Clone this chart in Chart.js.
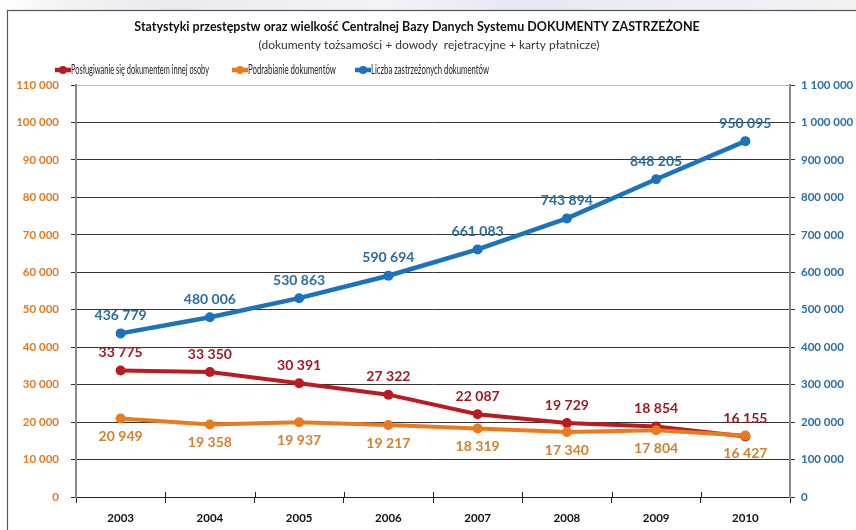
<!DOCTYPE html>
<html>
<head>
<meta charset="utf-8">
<script src="https://cdn.jsdelivr.net/npm/chart.js@4.4.1/dist/chart.umd.min.js"></script>
<style>
html,body{margin:0;padding:0;background:#fff;}
#wrap{width:856px;height:530px;position:relative;}
</style>
</head>
<body>
<div id="wrap"><canvas id="c" width="856" height="530"></canvas></div>
<script>
const years = ['2003','2004','2005','2006','2007','2008','2009','2010'];
const posluguiwanie = [33775, 33350, 30391, 27322, 22087, 19729, 18854, 16155];
const podrabianie = [20949, 19358, 19937, 19217, 18319, 17340, 17804, 16427];
const zastrzezone = [436779, 480006, 530863, 590694, 661083, 743894, 848205, 950095];
const seriesNames = ['Posługiwanie się dokumentem innej osoby', 'Podrabianie dokumentów', 'Liczba zastrzeżonych dokumentów'];
const titleText = 'Statystyki przestępstw oraz wielkość Centralnej Bazy Danych Systemu DOKUMENTY ZASTRZEŻONE';
const subtitleText = '(dokumenty tożsamości + dowody  rejetracyjne + karty płatnicze)';
const leftMax = 110000, leftStep = 10000;
const rightMax = 1100000, rightStep = 100000;

const RED = '#BA1B22', ORANGE = '#EA7A1E', BLUE = '#1B72BD';
const RED_LBL = '#9C1C22', ORANGE_LBL = '#D2812F', BLUE_LBL = '#2A6C9F';

function fmt(v){ return String(v).replace(/\B(?=(\d{3})+(?!\d))/g, ' '); }

const framePlugin = {
  id: 'frame',
  beforeDraw(chart){
    const ctx = chart.ctx;
    ctx.save();
    ctx.fillStyle = '#fff';
    ctx.fillRect(0,0,chart.width,chart.height);
    const g = ctx.createLinearGradient(0,0,chart.width,0);
    g.addColorStop(0,'#ffffff');
    g.addColorStop(0.07,'#f4f4f6');
    g.addColorStop(0.2,'#e9e9ee');
    g.addColorStop(0.45,'#f3f3f8');
    g.addColorStop(0.6,'#e6e8f2');
    g.addColorStop(0.8,'#eceef4');
    g.addColorStop(1,'#f2f2f4');
    ctx.fillStyle = g;
    ctx.fillRect(0,0,chart.width,10);
    ctx.strokeStyle = '#555';
    ctx.lineWidth = 1.2;
    ctx.strokeRect(7.5,10.5,chart.width+20,chart.height+20);
    ctx.restore();
  },
  afterDraw(chart){
    const ctx = chart.ctx;
    ctx.save();
    const xs = chart.scales.x, area = chart.chartArea;
    ctx.strokeStyle = '#222';
    ctx.lineWidth = 1;
    for (let i = 0; i < years.length - 1; i++) {
      const px = Math.round((xs.getPixelForTick(i) + xs.getPixelForTick(i + 1)) / 2) + 0.5;
      ctx.beginPath();
      ctx.moveTo(px, area.bottom - 5);
      ctx.lineTo(px, area.bottom);
      ctx.stroke();
    }
    ctx.fillStyle = '#111';
    ctx.textAlign = 'center';
    ctx.textBaseline = 'middle';
    ctx.font = 'bold 12.5px Lato';
    ctx.fillText(titleText, 417, 27, 652);
    ctx.fillStyle = '#333';
    ctx.font = '12px Lato';
    ctx.fillText(subtitleText, 429, 45, 354);
    const items = [
      {c: RED, x: 55, tw: 138},
      {c: ORANGE, x: 232, tw: 88},
      {c: BLUE, x: 355, tw: 118}
    ];
    ctx.textAlign = 'left';
    ctx.font = '13.5px Lato';
    items.forEach((it, i) => {
      const y = 70;
      ctx.strokeStyle = it.c;
      ctx.lineWidth = 4.5;
      ctx.beginPath();
      ctx.moveTo(it.x, y);
      ctx.lineTo(it.x + 16, y);
      ctx.stroke();
      ctx.fillStyle = it.c;
      ctx.beginPath();
      ctx.arc(it.x + 8, y, 4, 0, Math.PI*2);
      ctx.fill();
      ctx.fillStyle = '#222';
      ctx.fillText(seriesNames[i], it.x + 16, y, it.tw);
    });
    ctx.restore();
  }
};

const labelPlugin = {
  id: 'valLabels',
  afterDatasetsDraw(chart){
    const ctx = chart.ctx;
    ctx.save();
    ctx.font = 'bold 14px Lato';
    ctx.textAlign = 'center';
    ctx.textBaseline = 'middle';
    chart.data.datasets.forEach((ds, di) => {
      const meta = chart.getDatasetMeta(di);
      meta.data.forEach((pt, i) => {
        ctx.fillStyle = ds.labelColor;
        const off = ds.labelPos === 'below' ? 18 : -18;
        ctx.fillText(fmt(ds.data[i]), pt.x, pt.y + off);
      });
    });
    ctx.restore();
  }
};

new Chart(document.getElementById('c'), {
  type: 'line',
  data: {
    labels: years,
    datasets: [
      {label: seriesNames[0], data: posluguiwanie, yAxisID: 'y', borderColor: RED, backgroundColor: RED,
       borderWidth: 4, pointRadius: 5, pointBackgroundColor: RED, pointBorderWidth: 0, tension: 0,
       labelColor: RED_LBL, labelPos: 'above', order: 1},
      {label: seriesNames[1], data: podrabianie, yAxisID: 'y', borderColor: ORANGE, backgroundColor: ORANGE,
       borderWidth: 4, pointRadius: 5, pointBackgroundColor: ORANGE, pointBorderWidth: 0, tension: 0,
       labelColor: ORANGE_LBL, labelPos: 'below', order: 0},
      {label: seriesNames[2], data: zastrzezone, yAxisID: 'y2', borderColor: BLUE, backgroundColor: BLUE,
       borderWidth: 4.5, pointRadius: 5, pointBackgroundColor: BLUE, pointBorderWidth: 0, tension: 0,
       labelColor: BLUE_LBL, labelPos: 'above', order: 2}
    ]
  },
  options: {
    responsive: false,
    animation: false,
    devicePixelRatio: 1,
    layout: {padding: {top: 85, left: 0, right: 0, bottom: 0}},
    plugins: {legend: {display: false}, title: {display: false}, tooltip: {enabled: false}},
    scales: {
      x: {
        offset: true,
        grid: {offset: true, drawOnChartArea: false, color: '#222', tickLength: 6, lineWidth: 1},
        border: {color: '#222', width: 1},
        ticks: {color: '#111', font: {family: 'Lato', weight: 'bold', size: 11.5}, padding: 8},
        afterFit(s){ s.height = 33; }
      },
      y: {
        position: 'left',
        min: 0, max: leftMax,
        ticks: {stepSize: leftStep, color: '#E07A22', font: {family: 'Lato', weight: 'bold', size: 11.5}, padding: 12,
                callback: v => fmt(v)},
        grid: {color: ctx => ctx.tick && ctx.tick.value === leftMax ? '#bbbbbb' : '#333333', lineWidth: 1,
               tickLength: 5, tickColor: '#333'},
        border: {color: '#8a8a8a', width: 2},
        afterFit(s){ s.width = 76; }
      },
      y2: {
        position: 'right',
        min: 0, max: rightMax,
        ticks: {stepSize: rightStep, color: '#2B6EA8', font: {family: 'Lato', weight: 'bold', size: 11.5}, padding: 6,
                callback: v => fmt(v)},
        grid: {drawOnChartArea: false, tickLength: 5, tickColor: '#333'},
        border: {color: '#8a8a8a', width: 2},
        afterFit(s){ s.width = 66; }
      }
    }
  },
  plugins: [framePlugin, labelPlugin]
});
</script>
</body>
</html>
